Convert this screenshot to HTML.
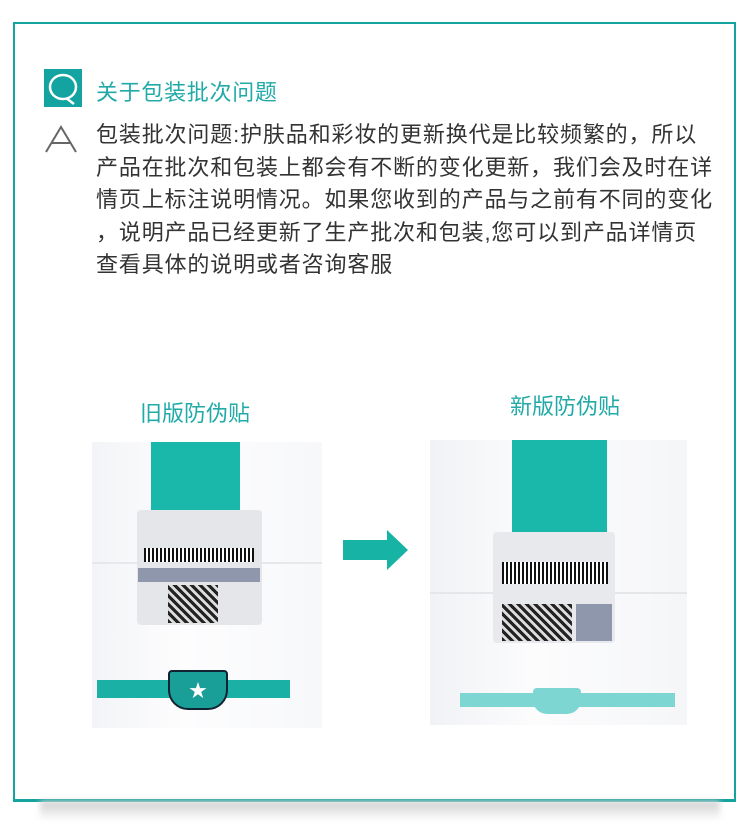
<!DOCTYPE html>
<html><head><meta charset="utf-8"><style>
body{margin:0;width:750px;height:827px;background:#fff;position:relative;overflow:hidden;font-family:"Liberation Sans","Noto Sans CJK SC",sans-serif}
.a{position:absolute}
.frame{left:13px;top:22px;width:719px;height:775px;border:2px solid #13a3a0;border-bottom:3px solid #13a3a0}
.shadow{left:40px;top:801px;width:680px;height:20px;background:linear-gradient(#cfcfcf,#fff);filter:blur(3px)}
.q{left:44px;top:69px;width:38px;height:38px;background:#13a3a0}
.t{left:96px;top:75px;font-size:22px;letter-spacing:0.7px;color:#22aaa8;white-space:nowrap}
.p{left:96px;top:119px;font-size:22px;letter-spacing:0.85px;color:#333;line-height:32.5px;white-space:nowrap}
.cap{font-size:22px;color:#22aaa8;white-space:nowrap}
</style></head><body>
<div class="a frame"></div>
<div class="a shadow"></div>
<div class="a q"><svg width="38" height="38"><ellipse cx="19" cy="18" rx="13" ry="12" fill="none" stroke="#fff" stroke-width="2.5"/><line x1="22" y1="29" x2="30" y2="35" stroke="#fff" stroke-width="2.5"/></svg></div>
<div class="a t">关于包装批次问题</div>
<svg class="a" style="left:44px;top:124px" width="34" height="30"><polyline points="2,28 17,3 32,28" fill="none" stroke="#666" stroke-width="2"/><line x1="8" y1="19" x2="26" y2="19" stroke="#666" stroke-width="2"/></svg>
<div class="a p">包装批次问题:护肤品和彩妆的更新换代是比较频繁的，所以<br>产品在批次和包装上都会有不断的变化更新，我们会及时在详<br>情页上标注说明情况。如果您收到的产品与之前有不同的变化<br>，说明产品已经更新了生产批次和包装,您可以到产品详情页<br>查看具体的说明或者咨询客服</div>
<div class="a cap" style="left:140px;top:396px">旧版防伪贴</div>
<div class="a cap" style="left:510px;top:389px">新版防伪贴</div>
<!-- left box -->
<div class="a" style="left:92px;top:442px;width:230px;height:286px;background:linear-gradient(90deg,#f3f4f7,#fdfdfe 40%,#f7f8fa)"></div>
<div class="a" style="left:92px;top:562px;width:230px;height:2px;background:#e6e8ec"></div>
<div class="a" style="left:151px;top:442px;width:89px;height:70px;background:#1ab8ab"></div>
<div class="a" style="left:137px;top:510px;width:125px;height:115px;background:#e4e6ea;border-radius:4px"></div>
<div class="a" style="left:144px;top:548px;width:110px;height:14px;background:repeating-linear-gradient(90deg,#111 0 2px,#fff 2px 4px)"></div>
<div class="a" style="left:138px;top:568px;width:122px;height:14px;background:#8e97ac"></div>
<div class="a" style="left:168px;top:585px;width:50px;height:38px;background:repeating-linear-gradient(45deg,#222 0 3px,#ddd 3px 6px)"></div>
<div class="a" style="left:97px;top:680px;width:193px;height:18px;background:#1ab0a6"></div>
<div class="a" style="left:168px;top:670px;width:56px;height:36px;background:#1a9e98;border:2px solid #123;border-radius:4px 4px 20px 20px"></div>
<div class="a" style="left:189px;top:677px;color:#fff;font-size:18px">★</div>
<!-- arrow -->
<svg class="a" style="left:343px;top:530px" width="66" height="40"><polygon points="0,10 44,10 44,0 65,20 44,40 44,30 0,30" fill="#17b3a4"/></svg>
<!-- right box -->
<div class="a" style="left:430px;top:440px;width:257px;height:285px;background:linear-gradient(90deg,#f1f2f6,#fcfcfd 40%,#f5f6f8)"></div>
<div class="a" style="left:430px;top:592px;width:257px;height:2px;background:#e4e6ea"></div>
<div class="a" style="left:512px;top:440px;width:95px;height:92px;background:#1ab8ab"></div>
<div class="a" style="left:493px;top:532px;width:122px;height:111px;background:#e8e9ec;border-radius:4px"></div>
<div class="a" style="left:502px;top:562px;width:106px;height:22px;background:repeating-linear-gradient(90deg,#111 0 2px,#fff 2px 4px)"></div>
<div class="a" style="left:502px;top:604px;width:70px;height:37px;background:repeating-linear-gradient(45deg,#222 0 3px,#ddd 3px 6px)"></div>
<div class="a" style="left:576px;top:604px;width:36px;height:37px;background:#8e97ac"></div>
<div class="a" style="left:460px;top:693px;width:215px;height:14px;background:#7dd6d2"></div>
<div class="a" style="left:533px;top:688px;width:48px;height:26px;background:#7dd6d2;border-radius:4px 4px 14px 14px"></div>
</body></html>
